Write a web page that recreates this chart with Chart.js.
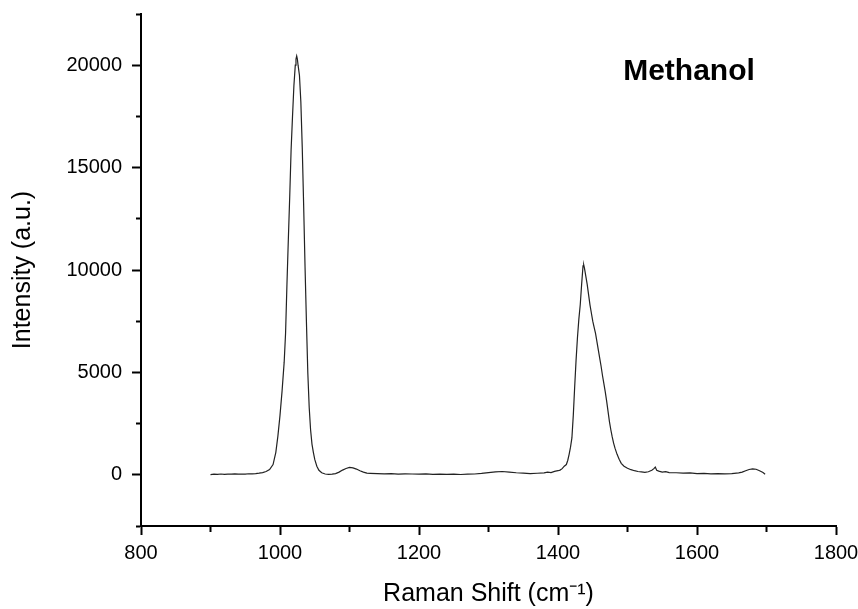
<!DOCTYPE html>
<html>
<head>
<meta charset="utf-8">
<script src="https://cdn.jsdelivr.net/npm/chart.js@4/dist/chart.umd.min.js"></script>
<style>
  body { margin: 0; background: #fff; }
  #wrap { width: 858px; height: 609px; }
</style>
</head>
<body>
<div id="wrap"><canvas id="spectrum" width="858" height="609"></canvas></div>
<script>
// Raman shift (cm-1) and intensity (a.u.)
const shift = [
  900, 905, 910, 915, 920, 925, 930, 935, 940, 945, 950, 955, 960, 965, 970, 975, 980, 985,
  990, 994, 997, 1000, 1003, 1006, 1008, 1010, 1012, 1014, 1016, 1018, 1020, 1022, 1023, 1024,
  1025, 1026, 1028, 1030, 1032, 1034, 1036, 1038, 1040, 1042, 1044, 1046, 1048, 1050, 1053, 1056,
  1060, 1065, 1070, 1075, 1080, 1085, 1090, 1095, 1100, 1105, 1110, 1115, 1120, 1125, 1130, 1140,
  1150, 1160, 1170, 1180, 1190, 1200, 1210, 1220, 1230, 1240, 1250, 1260, 1270, 1280, 1290, 1300,
  1310, 1320, 1330, 1340, 1350, 1360, 1370, 1380, 1385, 1390, 1395, 1400, 1403, 1406, 1409, 1412,
  1414, 1416, 1418, 1420, 1422, 1424, 1426, 1428, 1430, 1432, 1434, 1436, 1437, 1438, 1440, 1442,
  1444, 1446, 1448, 1450, 1452, 1454, 1456, 1458, 1460, 1462, 1464, 1466, 1468, 1470, 1472, 1474,
  1476, 1478, 1480, 1482, 1485, 1488, 1491, 1495, 1500, 1505, 1510, 1515, 1520, 1525, 1530, 1535,
  1538, 1540, 1542, 1545, 1550, 1555, 1560, 1570, 1580, 1590, 1600, 1610, 1620, 1630, 1640, 1650,
  1660, 1665, 1670, 1675, 1680, 1685, 1690, 1695, 1698
];
const intensity = [
  10, 30, 20, 40, 25, 35, 30, 45, 30, 40, 35, 50, 45, 60, 80, 110, 160, 260,
  500, 1100, 1900, 2900, 4100, 5500, 6900, 9300, 11500, 13600, 15900, 17500, 19000, 20000, 20300, 20450,
  20300, 20000, 19500, 18200, 16000, 13200, 10200, 7500, 5000, 3300, 2200, 1500, 1100, 750, 420, 220,
  100, 40, 20, 30, 60, 130, 230, 310, 360, 340, 280, 200, 130, 80, 70, 55,
  45, 60, 35, 50, 40, 30, 45, 25, 35, 20, 30, 15, 35, 40, 70, 110,
  140, 160, 130, 100, 80, 60, 75, 90, 130, 110, 170, 200, 230, 300, 420, 500,
  700, 1000, 1350, 1800, 2900, 4300, 5600, 6700, 7600, 8300, 9300, 10200, 10250, 10100, 9700, 9300,
  8800, 8300, 7900, 7500, 7200, 6900, 6500, 6100, 5700, 5300, 4850, 4450, 4050, 3600, 3100, 2600,
  2200, 1850, 1550, 1300, 1000, 760, 560, 420, 320, 250, 200, 160, 140, 120, 150, 220,
  300, 380, 220, 180, 130, 150, 110, 100, 80, 90, 60, 70, 50, 60, 45, 60,
  90, 130, 200, 260, 290, 270, 200, 110, 30
];
const xTicks = [800, 1000, 1200, 1400, 1600, 1800];
const yTicks = [0, 5000, 10000, 15000, 20000];

const FONT = "'Liberation Sans', Arial, sans-serif";

// "Methanol" label in the upper right
const labelPlugin = {
  id: 'sampleLabel',
  afterDraw(chart) {
    const ctx = chart.ctx;
    ctx.save();
    ctx.font = "bold 30px " + FONT;
    ctx.fillStyle = '#000';
    ctx.textAlign = 'center';
    ctx.textBaseline = 'alphabetic';
    ctx.fillText('Methanol', 689, 80);
    ctx.restore();
  }
};

new Chart(document.getElementById('spectrum'), {
  type: 'line',
  data: {
    datasets: [{
      data: shift.map((s, i) => ({ x: s, y: intensity[i] })),
      borderColor: '#222',
      borderWidth: 1.2,
      pointRadius: 0,
      tension: 0,
      fill: false
    }]
  },
  options: {
    responsive: false,
    animation: false,
    layout: { padding: { top: 14, right: 22, left: 0, bottom: 0 } },
    plugins: { legend: { display: false }, tooltip: { enabled: false } },
    scales: {
      x: {
        type: 'linear',
        min: 800,
        max: 1800,
        afterFit: s => { s.height = 83; s.paddingRight = 0; s.paddingLeft = 0; },
        border: { display: true, color: '#000', width: 2 },
        grid: {
          drawOnChartArea: false,
          drawTicks: true,
          tickLength: 9,
          tickWidth: 2,
          tickColor: '#000',
          tickBorderDash: c => xTicks.includes(c.tick.value) ? [] : [5, 100]
        },
        ticks: {
          stepSize: 100,
          autoSkip: false,
          maxRotation: 0,
          padding: 6,
          color: '#000',
          font: { family: FONT, size: 20 },
          callback: v => xTicks.includes(v) ? String(v) : ''
        },
        title: {
          display: true,
          text: 'Raman Shift (cm⁻¹)',
          color: '#000',
          font: { family: FONT, size: 25 },
          padding: { top: 0, bottom: 0 }
        }
      },
      y: {
        min: -2500,
        max: 22500,
        afterFit: s => { s.width = 141; s.paddingTop = 0; s.paddingBottom = 0; },
        border: { display: true, color: '#000', width: 2 },
        grid: {
          drawOnChartArea: false,
          drawTicks: true,
          tickLength: 9,
          tickWidth: 2,
          tickColor: '#000',
          tickBorderDash: c => yTicks.includes(c.tick.value) ? [] : [0, 4, 5, 100]
        },
        ticks: {
          stepSize: 2500,
          autoSkip: false,
          padding: 10,
          color: '#000',
          font: { family: FONT, size: 20 },
          callback: v => yTicks.includes(v) ? String(v) : ''
        },
        title: {
          display: true,
          text: 'Intensity (a.u.)',
          color: '#000',
          font: { family: FONT, size: 25 },
          padding: { top: 8, bottom: 0 }
        }
      }
    }
  },
  plugins: [labelPlugin]
});
</script>
</body>
</html>
